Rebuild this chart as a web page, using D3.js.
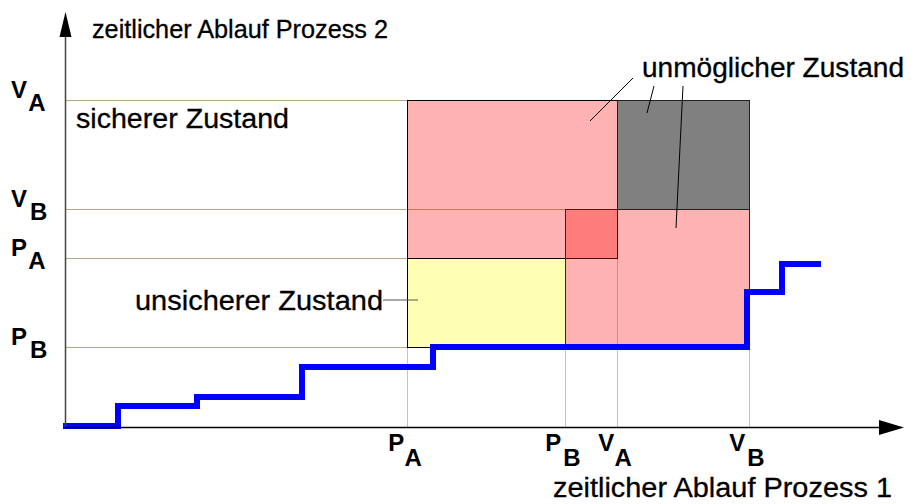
<!DOCTYPE html>
<html>
<head>
<meta charset="utf-8">
<script src="https://cdn.jsdelivr.net/npm/d3@7"></script>
<style>
  body { margin: 0; background: #fff; }
  text { font-family: "Liberation Sans", Arial, sans-serif; fill: #000; }
</style>
</head>
<body>
<svg id="chart" width="914" height="504"></svg>
<script>
// data (time units of the two processes)
var xTickNames = ["P", "P", "V", "V"];
var xTickSubs = ["A", "B", "A", "B"];
var xTickValues = [34.1, 49.9, 55.1, 68.3];

var yTickNames = ["V", "V", "P", "P"];
var yTickSubs = ["A", "B", "A", "B"];
var yTickValues = [32.7, 21.8, 16.9, 8.0];

// path of the two processes (step after)
var pathX = [-0.3, 5.2, 13.1, 23.6, 36.7, 68.1, 71.6, 75.5];
var pathY = [0.1, 2.1, 3.0, 6.0, 8.0, 13.5, 16.3, 16.3];

// regions: x0, x1, y0, y1 in time units
var regionNames = ["unsicher", "A", "B", "unmoeglich"];
var regionX0 = [34.1, 34.1, 49.9, 55.1];
var regionX1 = [49.9, 55.1, 68.3, 68.3];
var regionY0 = [8.0, 16.9, 8.0, 21.8];
var regionY1 = [16.9, 32.7, 21.8, 32.7];

// leader lines of the labels
var leaderX0 = [56.7, 58.8, 61.7, 31.7];
var leaderY0 = [34.9, 34.1, 34.1, 12.7];
var leaderX1 = [52.4, 58.1, 61.0, 35.2];
var leaderY1 = [30.6, 31.4, 19.9, 12.7];

//parameters
var originX = 66;
var originY = 427;

var svg = d3.select("#chart");

var x = d3.scaleLinear().domain([0, 84]).range([originX, 906]);
var y = d3.scaleLinear().domain([0, 41.5]).range([originY, 12]);

// grid lines, each runs up to the region it belongs to
var hGridEnd = [34.1, 49.9, 34.1, 34.1];
var vGridEnd = [8.0, 8.0, 16.9, 8.0];

svg.selectAll(".hgrid").data(yTickValues).enter().append("line")
    .attr("x1", originX).attr("x2", function (d, i) { return x(hGridEnd[i]); })
    .attr("y1", function (d) { return Math.round(y(d)) + 0.5; })
    .attr("y2", function (d) { return Math.round(y(d)) + 0.5; })
    .attr("stroke", "#bba684").attr("stroke-width", 1);

svg.selectAll(".vgrid").data(xTickValues).enter().append("line")
    .attr("y1", originY).attr("y2", function (d, i) { return y(vGridEnd[i]); })
    .attr("x1", function (d) { return Math.round(x(d)) + 0.5; })
    .attr("x2", function (d) { return Math.round(x(d)) + 0.5; })
    .attr("stroke", "#cbc2b6").attr("stroke-width", 1);

// regions
var regionFill = ["#ffffb4", "rgba(255,0,0,0.3)", "rgba(255,0,0,0.3)", "#808080"];
var regionStroke = ["#000", "#000", "#5c1414", "#222"];

svg.selectAll(".region").data(regionNames).enter().append("rect")
    .attr("x", function (d, i) { return Math.round(x(regionX0[i])) + 0.5; })
    .attr("width", function (d, i) { return Math.round(x(regionX1[i])) - Math.round(x(regionX0[i])); })
    .attr("y", function (d, i) { return Math.round(y(regionY1[i])) + 0.5; })
    .attr("height", function (d, i) { return Math.round(y(regionY0[i])) - Math.round(y(regionY1[i])); })
    .attr("fill", function (d, i) { return regionFill[i]; })
    .attr("stroke", function (d, i) { return regionStroke[i]; })
    .attr("stroke-width", 1);

// path of both processes
var pts = pathX.map(function (d, i) { return [d, pathY[i]]; });
var line = d3.line()
    .x(function (d) { return x(d[0]); })
    .y(function (d) { return y(d[1]); })
    .curve(d3.curveStepAfter);

svg.append("path")
    .attr("d", line(pts))
    .attr("fill", "none")
    .attr("stroke", "#0000ff")
    .attr("stroke-width", 6)
    .attr("stroke-linejoin", "miter")
    .attr("stroke-linecap", "butt");

// axes
svg.append("line")
    .attr("x1", originX - 0.5).attr("x2", originX - 0.5)
    .attr("y1", originY + 1).attr("y2", 30)
    .attr("stroke", "#444").attr("stroke-width", 1.5);
svg.append("polygon")
    .attr("points", (originX - 6.5) + ",37 " + (originX - 0.5) + ",12 " + (originX + 5.5) + ",37")
    .attr("fill", "#000");

svg.append("line")
    .attr("x1", originX - 1).attr("x2", 885)
    .attr("y1", originY + 0.5).attr("y2", originY + 0.5)
    .attr("stroke", "#000").attr("stroke-width", 1.5);
svg.append("polygon")
    .attr("points", "879," + (originY - 7) + " 904," + (originY + 0.5) + " 879," + (originY + 8))
    .attr("fill", "#000");

// tick labels
var xLab = svg.selectAll(".xlab").data(xTickValues).enter().append("text")
    .attr("x", function (d) { return x(d) - 2; })
    .attr("y", originY + 24)
    .attr("text-anchor", "middle")
    .style("font-size", "24px").style("font-weight", "bold");
xLab.append("tspan").text(function (d, i) { return xTickNames[i]; });
xLab.append("tspan").attr("dx", 2).attr("dy", 15).text(function (d, i) { return xTickSubs[i]; });

var yLab = svg.selectAll(".ylab").data(yTickValues).enter().append("text")
    .attr("x", 11)
    .attr("y", function (d) { return y(d) - 2; })
    .style("font-size", "24px").style("font-weight", "bold");
yLab.append("tspan").text(function (d, i) { return yTickNames[i]; });
yLab.append("tspan").attr("dx", 3).attr("dy", 13).text(function (d, i) { return yTickSubs[i]; });

// leader lines
svg.selectAll(".leader").data(leaderX0).enter().append("line")
    .attr("x1", function (d) { return x(d); })
    .attr("y1", function (d, i) { return y(leaderY0[i]); })
    .attr("x2", function (d, i) { return x(leaderX1[i]); })
    .attr("y2", function (d, i) { return y(leaderY1[i]); })
    .attr("stroke", function (d, i) { return i === 3 ? "#555" : "#000"; })
    .attr("stroke-width", 1);

// labels
var labels = [
    { t: "zeitlicher Ablauf Prozess 2", x: 92, y: 38, s: 25, w: 296 },
    { t: "sicherer Zustand", x: 76, y: 128, s: 27, w: 213 },
    { t: "unmöglicher Zustand", x: 642, y: 77, s: 27, w: 262 },
    { t: "unsicherer Zustand", x: 135, y: 310, s: 27, w: 248 },
    { t: "zeitlicher Ablauf Prozess 1", x: 553, y: 497, s: 27, w: 339 }
];
svg.selectAll(".label").data(labels).enter().append("text")
    .attr("x", function (d) { return d.x; })
    .attr("y", function (d) { return d.y; })
    .attr("textLength", function (d) { return d.w; })
    .attr("lengthAdjust", "spacingAndGlyphs")
    .style("font-size", function (d) { return d.s + "px"; })
    .style("stroke", "#000").style("stroke-width", 0.3)
    .text(function (d) { return d.t; });
</script>
</body>
</html>
